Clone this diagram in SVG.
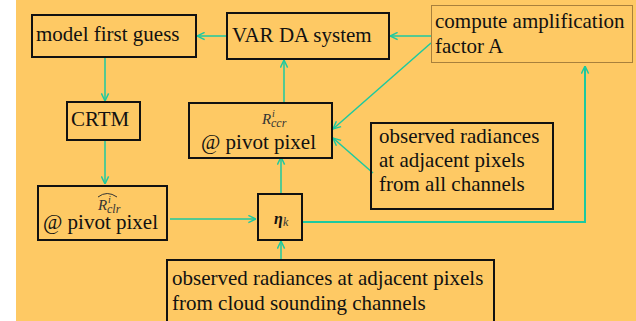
<svg xmlns="http://www.w3.org/2000/svg" width="636" height="321" viewBox="0 0 636 321">
<defs>
<style>
.box{fill:none;stroke:#111;stroke-width:2}
.t{font-size:21px;fill:#111}
.m{font-style:italic;fill:#333}
.c{stroke:#1CC9A0;stroke-width:1.5;fill:none}
</style>
<marker id="ah" viewBox="0 0 10 10" refX="9.5" refY="5" markerWidth="9" markerHeight="9" markerUnits="userSpaceOnUse" orient="auto">
<path d="M1,1 L9.5,5 L1,9" fill="none" stroke="#1CC9A0" stroke-width="1.6"/>
</marker>
</defs>
<rect x="0" y="0" width="636" height="321" fill="#fff"/>
<rect x="16" y="0" width="620" height="321" fill="#FEC964"/>

<g id="connectors">
<line class="c" x1="227" y1="36" x2="197" y2="36" marker-end="url(#ah)"/>
<line class="c" x1="431" y1="36" x2="390" y2="36" marker-end="url(#ah)"/>
<line class="c" x1="431" y1="43" x2="333" y2="129" marker-end="url(#ah)"/>
<line class="c" x1="373" y1="173" x2="333" y2="138" marker-end="url(#ah)"/>
<line class="c" x1="284" y1="102" x2="284" y2="60" marker-end="url(#ah)"/>
<line class="c" x1="105" y1="57" x2="105" y2="101" marker-end="url(#ah)"/>
<line class="c" x1="105" y1="140" x2="105" y2="184" marker-end="url(#ah)"/>
<line class="c" x1="170" y1="219" x2="256" y2="219" marker-end="url(#ah)"/>
<line class="c" x1="281" y1="194" x2="281" y2="157" marker-end="url(#ah)"/>
<line class="c" x1="281" y1="260" x2="281" y2="241" marker-end="url(#ah)"/>
<polyline class="c" style="stroke-width:2" points="302,222 585,222 585,66" marker-end="url(#ah)"/>
</g>

<g font-family="Liberation Serif, Times New Roman, DejaVu Serif, serif">
<g id="model-first-guess">
<rect class="box" x="32" y="15" width="164" height="42"/>
<text class="t" x="36" y="41">model first guess</text>
</g>

<g id="var-da-system">
<rect class="box" x="227" y="13" width="162" height="46"/>
<text class="t" x="232" y="42">VAR DA system</text>
</g>

<g id="compute-amplification">
<rect x="431.5" y="5.5" width="201" height="57" fill="none" stroke="#A8803C" stroke-width="1"/>
<text class="t" x="435" y="28">compute amplification</text>
<text class="t" x="435" y="53">factor A</text>
</g>

<g id="crtm">
<rect class="box" x="67" y="102" width="73" height="38"/>
<text class="t" x="71" y="126">CRTM</text>
</g>

<g id="r-ccr">
<rect class="box" x="189" y="103" width="143" height="55"/>
<text class="m" x="262" y="124" font-size="15">R<tspan x="272" y="117" font-size="10">i</tspan><tspan x="271" y="127" font-size="12">ccr</tspan></text>
<text class="t" x="201" y="149">@ pivot pixel</text>
</g>

<g id="obs-all-channels">
<rect class="box" x="371" y="123" width="182" height="86"/>
<text class="t" x="379" y="143">observed radiances</text>
<text class="t" x="379" y="167">at adjacent pixels</text>
<text class="t" x="379" y="191">from all channels</text>
</g>

<g id="r-clr">
<rect class="box" x="38" y="186" width="129" height="54"/>
<path d="M98,197 Q107,190 117,197" fill="none" stroke="#333" stroke-width="1"/>
<text class="m" x="98" y="210" font-size="15">R<tspan x="108" y="203" font-size="10">i</tspan><tspan x="107" y="213" font-size="12">clr</tspan></text>
<text class="t" x="43" y="229">@ pivot pixel</text>
</g>

<g id="eta-k">
<rect class="box" x="258" y="194" width="44" height="46"/>
<text x="274" y="224" font-size="16" font-weight="bold" font-style="italic" fill="#111">η<tspan x="283" y="226" font-size="12" font-weight="normal" fill="#333">k</tspan></text>
</g>

<g id="obs-cloud-channels">
<rect class="box" x="167" y="260" width="327" height="62"/>
<text class="t" x="172" y="285">observed radiances at adjacent pixels</text>
<text class="t" x="172" y="310">from cloud sounding channels</text>
</g>
</g>
</svg>
